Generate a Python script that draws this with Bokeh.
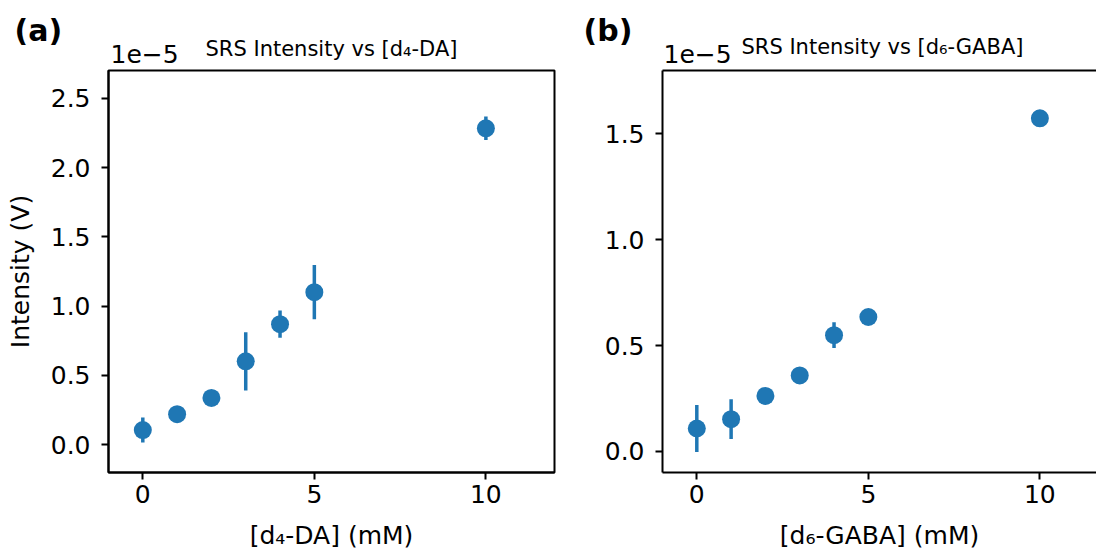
from bokeh.plotting import figure
from bokeh.layouts import row, column
from bokeh.models import Range1d, FixedTicker, LinearAxis, PrintfTickFormatter
from bokeh.core.properties import value
from bokeh.embed import file_html
from bokeh.resources import INLINE

# Concentrations (mM) and SRS intensities in units of 1e-5 V
conc_mM = [0, 1, 2, 3, 4, 5, 10]

da_intensity = [0.106, 0.221, 0.338, 0.602, 0.870, 1.101, 2.283]
da_error = [0.090, 0.020, 0.020, 0.210, 0.098, 0.195, 0.085]

gaba_intensity = [0.108, 0.152, 0.262, 0.359, 0.549, 0.635, 1.574]
gaba_error = [0.111, 0.094, 0.020, 0.020, 0.061, 0.020, 0.020]

x_ticks = [0, 5, 10]
da_y_ticks = [0.0, 0.5, 1.0, 1.5, 2.0, 2.5]
gaba_y_ticks = [0.0, 0.5, 1.0, 1.5]

BLUE = "#1f77b4"
FONT = "DejaVu Sans"
W = 1096
HEADER_H = 68          # strip holding panel tags, scale notes and titles
PLOT_H = 552 - HEADER_H
BORDER_TOP = 2
BORDER_BOTTOM = 79
FRAME_H = PLOT_H - BORDER_TOP - BORDER_BOTTOM

LEFT_W, LEFT_FRAME_X, LEFT_FRAME_W = 560, 108, 446
RIGHT_FRAME_X = 662
PX_PER_MM = LEFT_FRAME_W / 13.0


def style_axis(ax, ticks, fmt=None):
    ax.ticker = FixedTicker(ticks=ticks)
    if fmt is not None:
        ax.formatter = PrintfTickFormatter(format=fmt)
    ax.minor_tick_line_color = None
    ax.major_tick_in = 0
    ax.major_tick_out = 7
    ax.major_tick_line_width = 2
    ax.major_tick_line_color = "black"
    ax.axis_line_width = 2
    ax.axis_line_color = "black"
    ax.major_label_text_font = FONT
    ax.major_label_text_font_size = "25px"
    ax.major_label_text_color = "black"
    ax.axis_label_text_font = FONT
    ax.axis_label_text_font_size = "25px"
    ax.axis_label_text_font_style = "normal"
    ax.axis_label_text_color = "black"


def panel(width, border_left, border_right, x_end, y_range, y_ticks,
          values, errors, xlabel, ylabel, closed_frame):
    p = figure(width=width, height=PLOT_H, output_backend="svg",
               toolbar_location=None, title_location=None,
               x_range=Range1d(-1, x_end), y_range=Range1d(*y_range),
               min_border_left=border_left, min_border_right=border_right,
               min_border_top=BORDER_TOP, min_border_bottom=BORDER_BOTTOM)
    p.grid.visible = False
    p.background_fill_color = "white"
    p.border_fill_color = "white"

    xaxis = p.below[0]
    yaxis = p.left[0]
    style_axis(xaxis, x_ticks)
    style_axis(yaxis, y_ticks, "%.1f")
    xaxis.major_label_standoff = 5
    xaxis.axis_label_standoff = 15
    yaxis.major_label_standoff = 11
    yaxis.axis_label_standoff = 13
    xaxis.axis_label = xlabel
    if ylabel:
        yaxis.axis_label = ylabel

    if closed_frame:
        p.outline_line_color = "black"
        p.outline_line_width = 2
        p.outline_line_alpha = 1
    else:
        # open on the right: only the top edge is added
        p.outline_line_color = None
        top = LinearAxis(ticker=FixedTicker(ticks=[]), major_tick_out=0,
                         major_tick_in=0, minor_tick_out=0, minor_tick_in=0,
                         major_label_standoff=0,
                         minor_tick_line_color=None,
                         major_label_text_font_size="0px",
                         axis_line_width=2, axis_line_color="black")
        p.add_layout(top, "above")

    lo = [v - e for v, e in zip(values, errors)]
    hi = [v + e for v, e in zip(values, errors)]
    p.segment(x0=conc_mM, y0=lo, x1=conc_mM, y1=hi,
              line_color=BLUE, line_width=3.5)
    p.scatter(x=conc_mM, y=values, size=18, fill_color=BLUE,
              line_color=BLUE, line_width=0)
    return p


left = panel(width=LEFT_W, border_left=LEFT_FRAME_X,
             border_right=LEFT_W - LEFT_FRAME_X - LEFT_FRAME_W, x_end=12,
             y_range=(-0.2, 2.7), y_ticks=da_y_ticks,
             values=da_intensity, errors=da_error,
             xlabel="[d\u2084-DA] (mM)", ylabel="Intensity (V)",
             closed_frame=True)

right_w = W - LEFT_W
right_frame_w = right_w - (RIGHT_FRAME_X - LEFT_W)
right = panel(width=right_w, border_left=RIGHT_FRAME_X - LEFT_W,
              border_right=0, x_end=-1 + right_frame_w / PX_PER_MM,
              y_range=(-0.1, 1.8), y_ticks=gaba_y_ticks,
              values=gaba_intensity, errors=gaba_error,
              xlabel="[d\u2086-GABA] (mM)", ylabel=None,
              closed_frame=False)

# Header strip: pixel coordinates measured from the top-left corner
head = figure(width=W, height=HEADER_H, output_backend="svg",
              toolbar_location=None, title_location=None,
              x_axis_location=None, y_axis_location=None,
              x_range=Range1d(0, W), y_range=Range1d(HEADER_H, 0),
              min_border=0)
head.grid.visible = False
head.outline_line_color = None
head.background_fill_color = "white"
head.border_fill_color = "white"

head.text(x=[14, RIGHT_FRAME_X - 79], y=[30, 30], text=["(a)", "(b)"],
          text_font=value(FONT), text_font_size="30px",
          text_font_style="bold", text_color="black",
          text_baseline="alphabetic", text_align="left")
head.text(x=[LEFT_FRAME_X + 2, RIGHT_FRAME_X + 1], y=[53, 53],
          text=["1e\u22125", "1e\u22125"],
          text_font=value(FONT), text_font_size="25px", text_color="black",
          text_baseline="alphabetic", text_align="left")
head.text(x=[LEFT_FRAME_X + LEFT_FRAME_W / 2], y=[48],
          text=["SRS Intensity vs [d\u2084-DA]"],
          text_font=value(FONT), text_font_size="21px", text_color="black",
          text_baseline="alphabetic", text_align="center")
head.text(x=[RIGHT_FRAME_X + 79], y=[46],
          text=["SRS Intensity vs [d\u2086-GABA]"],
          text_font=value(FONT), text_font_size="21px", text_color="black",
          text_baseline="alphabetic", text_align="left")

layout = column(head, row(left, right, spacing=0), spacing=0)
open("out.html", "w").write(file_html(layout, INLINE))
